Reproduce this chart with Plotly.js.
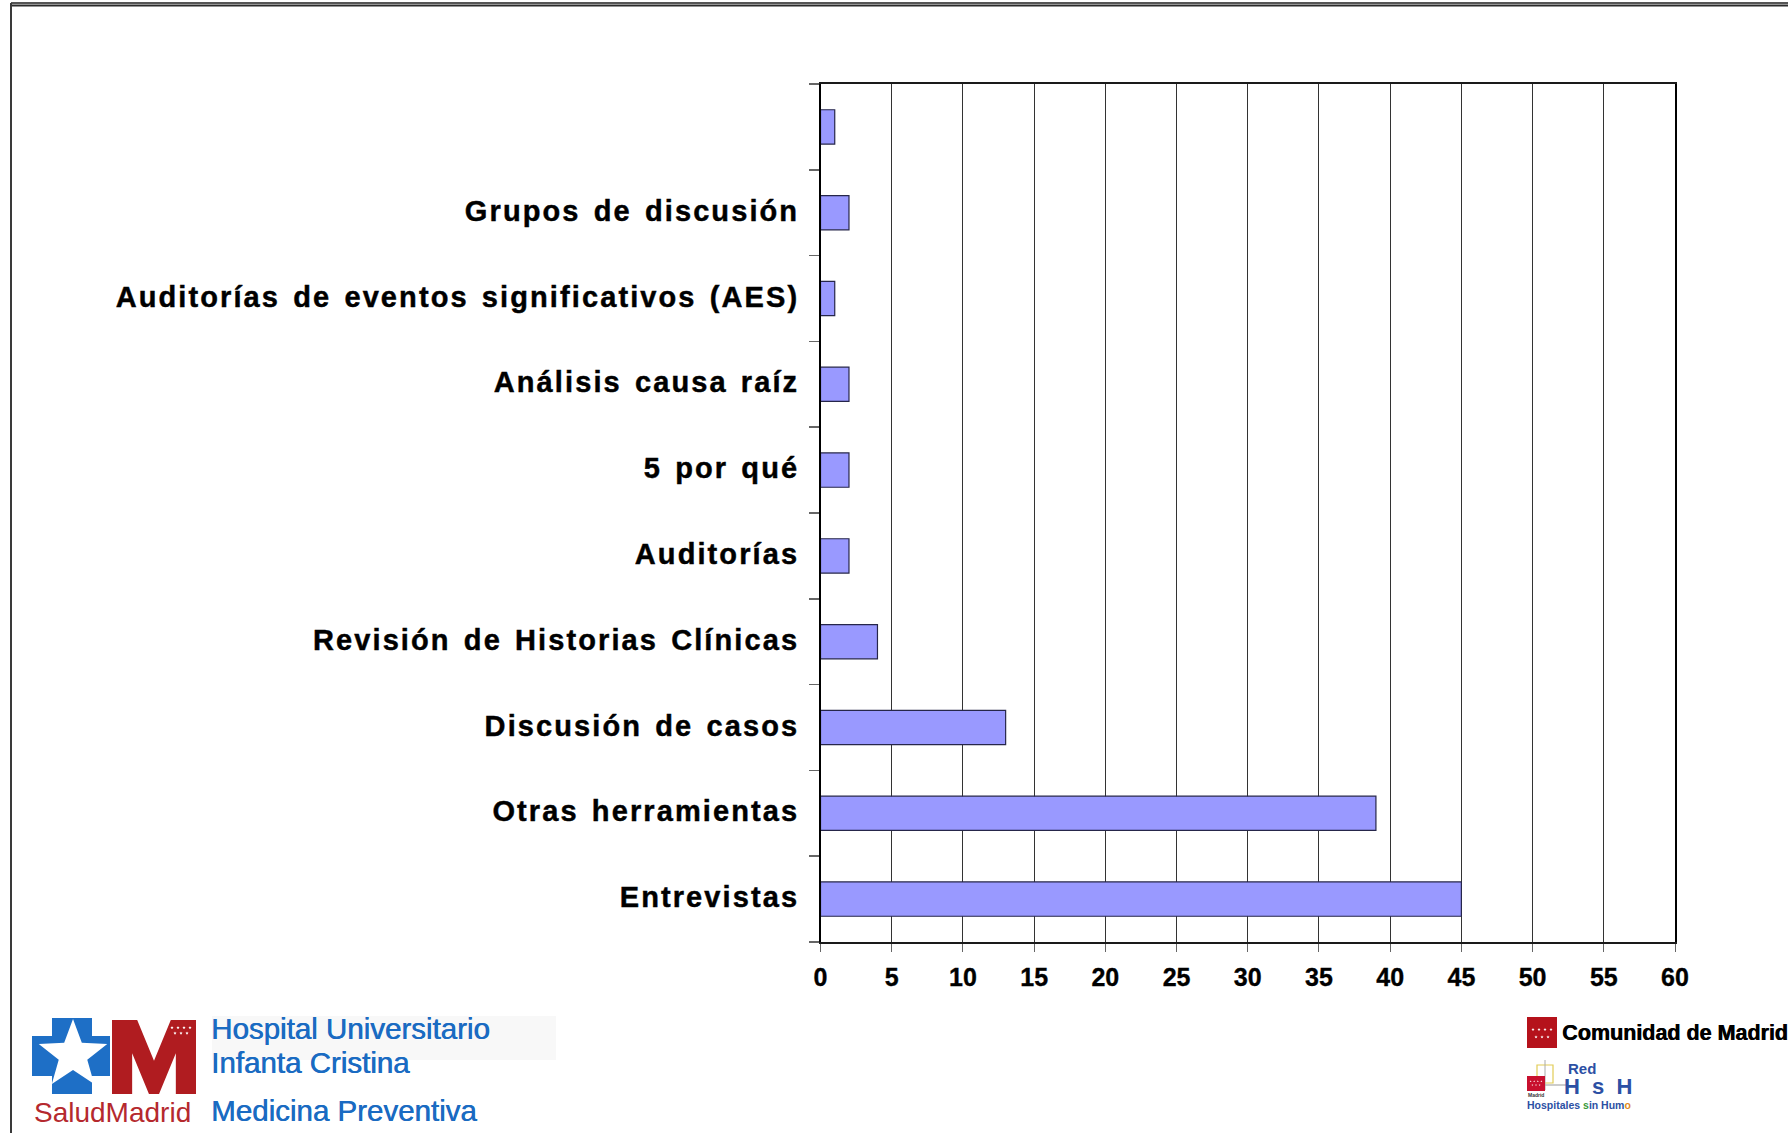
<!DOCTYPE html>
<html>
<head>
<meta charset="utf-8">
<script src="https://cdn.plot.ly/plotly-3.0.1.min.js"></script>
<style>
html,body{margin:0;padding:0;background:#fff;}
#chart{width:1788px;height:1133px;}
.yaxislayer-above .ytick text{letter-spacing:2.1px; word-spacing:3px; stroke:#000; stroke-width:0.45px;}
.xaxislayer-above .xtick text{stroke:#000; stroke-width:0.35px;}
</style>
</head>
<body>
<div id="chart"></div>
<script>
// ---- data (bottom to top) ----
var categories = ["Entrevistas", "Otras herramientas", "Discusión de casos", "Revisión de Historias Clínicas", "Auditorías", "5 por qué", "Análisis causa raíz", "Auditorías de eventos significativos (AES)", "Grupos de discusión", " "];
var values = [45, 39, 13, 4, 2, 2, 2, 1, 2, 1];
var xTickValues = [0, 5, 10, 15, 20, 25, 30, 35, 40, 45, 50, 55, 60];

// ---- helpers for decorative elements (page pixels -> paper) ----
var W = 1788, H = 1133;
function px(x){ return x / W; }
function py(y){ return 1 - y / H; }
function pathFrom(points){
  return points.map(function(p, i){ return (i ? 'L' : 'M') + px(p[0]).toFixed(5) + ',' + py(p[1]).toFixed(5); }).join(' ') + ' Z';
}
function starPts(cx, cy, R, r, rotDeg){
  var pts = [];
  for (var i = 0; i < 10; i++){
    var a = (rotDeg + i * 36) * Math.PI / 180;
    var rad = (i % 2 === 0) ? R : r;
    pts.push([cx + rad * Math.cos(a), cy + rad * Math.sin(a)]);
  }
  return pts;
}
function rect(x0, y0, x1, y1, fill, line, lw){
  return {type:'rect', xref:'paper', yref:'paper', x0:px(x0), x1:px(x1), y0:py(y1), y1:py(y0),
          fillcolor:fill, line:{color:line || fill, width: lw === undefined ? 0 : lw}, layer:'above'};
}
function poly(points, fill){
  return {type:'path', xref:'paper', yref:'paper', path:pathFrom(points), fillcolor:fill, line:{width:0}, layer:'above'};
}
function line(x0, y0, x1, y1, color, w){
  return {type:'line', xref:'paper', yref:'paper', x0:px(x0), x1:px(x1), y0:py(y0), y1:py(y1), line:{color:color, width:w}, layer:'above'};
}
function flagStars(x0, y0, w, h){
  var s = [];
  var r = w * 0.055;
  for (var i = 0; i < 4; i++) s.push(poly(starPts(x0 + w*(0.2 + i*0.2), y0 + h*0.35, r, r*0.45, -90), '#ffffff'));
  for (var j = 0; j < 3; j++) s.push(poly(starPts(x0 + w*(0.3 + j*0.2), y0 + h*0.6, r, r*0.45, -90), '#ffffff'));
  return s;
}

var shapes = [];
// slide frame
shapes.push(line(11, 3, 1788, 3, '#555555', 2));
shapes.push(line(11, 5.5, 1788, 5.5, '#2a2a2a', 2));
shapes.push(line(11, 3, 11, 1133, '#3a3a3a', 2));

// Left logo: blue cross with white star
var cross = [[52,1018],[92,1018],[92,1036],[110,1036],[110,1076],[92,1076],[92,1094],[52,1094],[52,1076],[32,1076],[32,1036],[52,1036]];
shapes.push(poly(cross, '#1e6fc6'));
shapes.push(poly(starPts(73, 1055, 36, 15, -90), '#ffffff'));
// Red M
var mx = 112, my = 1020, mw = 84, mh = 74;
var M = [[0,0],[0.30,0],[0.5,0.55],[0.70,0],[1,0],[1,1],[0.76,1],[0.76,0.45],[0.56,1],[0.44,1],[0.24,0.45],[0.24,1],[0,1]]
  .map(function(p){ return [mx + p[0]*mw, my + p[1]*mh]; });
shapes.push(poly(M, '#b01c20'));
shapes = shapes.concat(flagStars(166, 1020, 30, 22));
// faint box behind hospital name
shapes.push(rect(212, 1016, 556, 1060, '#f8f8f8'));

// Right logos
shapes.push(rect(1527, 1017, 1557, 1048, '#b5121b'));
shapes = shapes.concat(flagStars(1527, 1019, 30, 30));
shapes.push(rect(1537, 1065, 1553, 1083, 'rgba(0,0,0,0)', '#e2cc55', 1.2));
shapes.push(line(1545, 1060, 1545, 1090, '#aaaaaa', 1));
shapes.push(line(1540, 1085, 1568, 1085, '#aaaaaa', 1.2));
shapes.push(rect(1527, 1076, 1545, 1091, '#c8102e'));
shapes = shapes.concat(flagStars(1527, 1076, 18, 15));

var blue = '#1a6bc2';
var fam = 'Arial, "Liberation Sans", sans-serif';
var blueShadow = '0.6px 0 0 ' + blue;
var annotations = [
  {text:'Hospital Universitario', x:px(209), y:py(1028), xanchor:'left', yanchor:'middle', font:{family:fam, size:29.5, color:blue, shadow:blueShadow}},
  {text:'Infanta Cristina', x:px(209), y:py(1062), xanchor:'left', yanchor:'middle', font:{family:fam, size:29.5, color:blue, shadow:blueShadow}},
  {text:'Medicina Preventiva', x:px(209), y:py(1110), xanchor:'left', yanchor:'middle', font:{family:fam, size:29.5, color:blue, shadow:blueShadow}},
  {text:'SaludMadrid', x:px(32), y:py(1112), xanchor:'left', yanchor:'middle', font:{family:fam, size:28, color:'#b5292e'}},
  {text:'Comunidad de Madrid', x:px(1560), y:py(1033), xanchor:'left', yanchor:'middle', font:{family:fam, size:21.5, color:'#000000', weight:'bold', shadow:'0.6px 0 0 #000'}},
  {text:'Red', x:px(1566), y:py(1068), xanchor:'left', yanchor:'middle', font:{family:fam, size:15, color:'#2c50a4', weight:'bold'}},
  {text:'H&nbsp;&nbsp;s&nbsp;&nbsp;H', x:px(1562), y:py(1086), xanchor:'left', yanchor:'middle', font:{family:fam, size:22, color:'#2c50a4', weight:'bold'}},
  {text:'Madrid', x:px(1526), y:py(1095), xanchor:'left', yanchor:'middle', font:{family:fam, size:5, color:'#333333', weight:'bold'}},
  {text:'Hospitales <span style="color:#3a9a3a">s</span>in Hum<span style="color:#e08a1e">o</span>', x:px(1525), y:py(1105), xanchor:'left', yanchor:'middle', font:{family:fam, size:10.5, color:'#2c50a4', weight:'bold'}}
];
annotations.forEach(function(a){ a.xref = 'paper'; a.yref = 'paper'; a.showarrow = false; });

var trace = {
  type:'bar', orientation:'h',
  x: values, y: categories,
  width: 0.4,
  marker:{color:'#9999ff', line:{color:'#26264a', width:1.2}},
  hoverinfo:'none'
};

var layout = {
  width: W, height: H,
  margin:{l:0, r:0, t:0, b:0, pad:0},
  paper_bgcolor:'#ffffff', plot_bgcolor:'#ffffff',
  showlegend:false,
  xaxis:{
    domain:[820.5/W, 1675/W],
    range:[0, 60], tickmode:'array', tickvals:xTickValues, ticktext:xTickValues.map(String),
    showgrid:true, gridcolor:'#333333', gridwidth:1,
    zeroline:false,
    showline:true, linecolor:'#1a1a1a', linewidth:2, mirror:true,
    ticks:'outside', ticklen:8, tickcolor:'#666666', tickwidth:1,
    ticklabelstandoff:4,
    tickfont:{family:fam, size:25, color:'#000000', weight:'bold'},
    automargin:false, fixedrange:true
  },
  yaxis:{
    domain:[1 - 942/H, 1 - 84/H],
    type:'category', categoryorder:'array', categoryarray:categories,
    showgrid:false, zeroline:false,
    showline:true, linecolor:'#000000', linewidth:1.5, mirror:true,
    ticks:'outside', tickson:'boundaries', ticklen:10, tickcolor:'#666666', tickwidth:1.5,
    ticklabelstandoff:14,
    tickfont:{family:fam, size:29, color:'#000000', weight:'bold'},
    automargin:false, fixedrange:true
  },
  shapes: shapes,
  annotations: annotations
};

Plotly.newPlot('chart', [trace], layout, {displayModeBar:false, staticPlot:true}).then(function(){
  // nudge category labels up slightly to match reference baseline
  document.querySelectorAll('.yaxislayer-above .ytick text').forEach(function(t){
    t.setAttribute('dy', '-2');
  });
});
</script>
</body>
</html>
